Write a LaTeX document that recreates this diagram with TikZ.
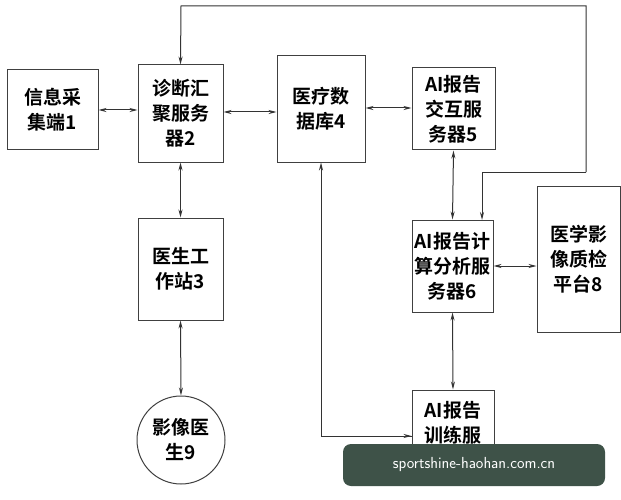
\documentclass[tikz,border=0pt]{standalone}
\usepackage{fontspec}
\setmainfont{Noto Sans CJK SC}[BoldFont={Noto Sans CJK SC Bold}]
\usetikzlibrary{arrows.meta}
\begin{document}
\begin{tikzpicture}[x=1pt,y=-1pt,
  box/.style={draw=black!75,line width=1pt,inner sep=0pt,align=center,font=\fontsize{19}{25}\selectfont\bfseries},
  ar/.style={line width=1pt,draw=black!80,-{Stealth[length=8pt,width=4pt]}},
  bar/.style={line width=1pt,draw=black!80,{Stealth[length=8pt,width=4pt]}-{Stealth[length=8pt,width=4pt]}}]
\useasboundingbox[fill=white] (0,0) rectangle (621,500);
\node[box,minimum width=91pt,minimum height=80pt] (n1) at (52.5,110) {信息采\\集端1};
\node[box,minimum width=85pt,minimum height=97pt] (n2) at (180.5,113.5) {诊断汇\\聚服务\\器2};
\node[box,minimum width=88pt,minimum height=106pt] (n4) at (321,109) {医疗数\\据库4};
\node[box,minimum width=83pt,minimum height=82pt] (n5) at (453.5,109) {AI报告\\交互服\\务器5};
\node[box,minimum width=81pt,minimum height=92pt] (n6) at (452.5,266) {AI报告计\\算分析服\\务器6};
\node[box,minimum width=83pt,minimum height=146pt] (n8) at (578.5,259) {医学影\\像质检\\平台8};
\node[box,minimum width=85pt,minimum height=102pt] (n3) at (180.5,269) {医生工\\作站3};
\node[box,circle,minimum size=88pt] (n9) at (181,440) {影像医\\生9};
\node[box,minimum width=82pt,minimum height=90pt] (n7) at (453,435) {AI报告\\训练服\\务器7};
\draw[bar] (n1.east) -- (n1.east -| n2.west);
\draw[bar] (n2.east |- 0,112) -- (n4.west |- 0,112);
\draw[bar] (n4.east |- 0,108) -- (n5.west |- 0,108);
\draw[bar] (n5.south) -- (n6.south |- n6.north);
\draw[bar] (n6.east) -- (n6.east -| n8.west);
\draw[bar] (n2.south) -- (n3.north);
\draw[bar] (n3.south) -- (n9.north);
\draw[bar] (n6.south) -- (n7.north);
\coordinate (c1) at (321,436);
\draw[ar] (n7.west |- c1) -- (c1) -- (n4.south);
\draw[ar] (c1) -- (n7.west |- c1);
\coordinate (t1) at (181,6);
\coordinate (t2) at (586,6);
\coordinate (t3) at (586,172);
\coordinate (t4) at (482,172);
\draw[ar] (t4) -- (482,220);
\draw[ar] (t3) -- (t2) -- (t1) -- (n2.north);
\draw[line width=1pt,draw=black!80] (t3) -- (t4);
\node[fill={rgb,255:red,62;green,82;blue,72},rounded corners=8pt,minimum width=262pt,minimum height=42pt,text=white,font=\fontsize{16}{18}\selectfont\sffamily] (wm) at (474,465) {sportshine-haohan.com.cn};
\end{tikzpicture}
\end{document}
